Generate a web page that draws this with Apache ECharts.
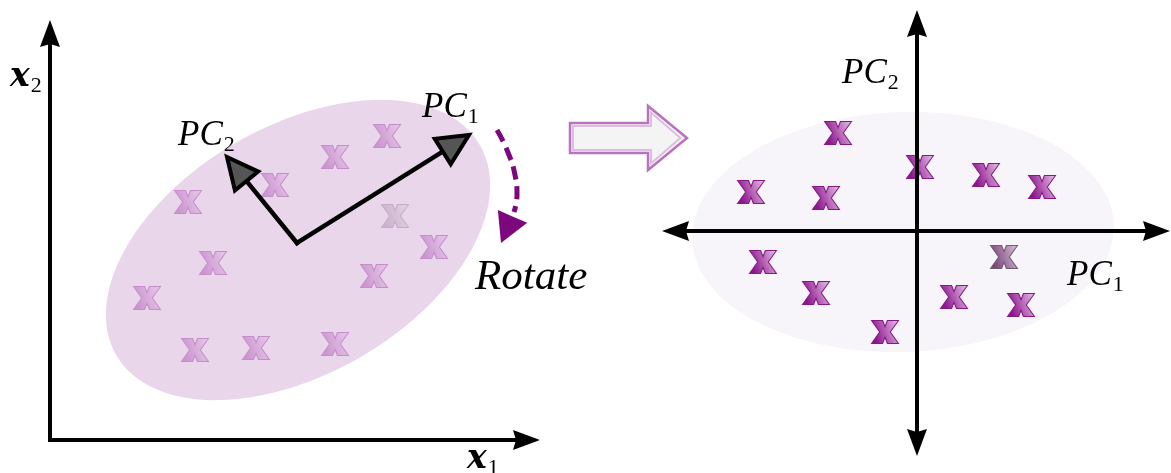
<!DOCTYPE html>
<html>
<head>
<meta charset="utf-8">
<script src="https://cdn.jsdelivr.net/npm/echarts@6/dist/echarts.min.js"></script>
<style>
  html, body { margin: 0; padding: 0; background: #fff; }
  #chart { width: 1171px; height: 473px; }
</style>
</head>
<body>
<div id="chart"></div>
<script>
// every value is in picture units: x grows to the right, y grows downward

// cx, cy, semi-major, semi-minor, tilt in degrees (counter-clockwise)
const clouds = [
  [298, 250, 210, 124, 30],
  [903, 232, 211, 120, 2]
];

// the samples, before and after the rotation
const beforePoints = [
  [188, 202], [275, 185], [335, 157], [387, 136], [434, 247], [213, 263],
  [374, 276], [147, 298], [195, 350], [256, 348], [335, 344]
];
const beforeFaded = [[395, 216]];
const afterPoints = [
  [838, 133], [920, 167], [986, 175], [1042, 187], [751, 192], [826, 198],
  [763, 262], [816, 293], [954, 297], [1021, 305], [885, 332]
];
const afterFaded = [[1004, 257]];

// arrows: from x, from y, to x, to y
const axisArrows = [
  [50, 440, 540, 440],
  [50, 440, 50, 20],
  [917, 231, 662, 231],
  [917, 231, 1170, 231],
  [917, 231, 917, 10],
  [917, 231, 917, 456]
];
const pcArrows = [
  [297, 243, 469, 135],
  [297, 243, 227, 157]
];
const rotatePath = [[497, 130], [507, 150], [515, 175], [517, 195], [514, 212]];
const rotateHead = [[514, 213, 501, 243]];

// block arrow: tail x, head start x, tip x, centre y, body half height, head half height
const shiftArrow = [[570, 648, 687, 138, 15, 32]];

// x, y, main text, subscript, kind
const labels = [
  [10, 77, 'x', '2', 'vec'],
  [467, 459, 'x', '1', 'vec'],
  [178, 136, 'PC', '2', 'math'],
  [422, 108, 'PC', '1', 'math'],
  [842, 74, 'PC', '2', 'math'],
  [1067, 276, 'PC', '1', 'math'],
  [475, 278, 'Rotate', '', 'word']
];

const xGlyph = 'path://M0,0 H11.5 L14,6.5 L16.5,0 H28 L19.5,12 L28,24 H16.5 L14,17.5 L11.5,24 H0 L8.5,12 Z';

function grad(a, b) {
  return { type: 'linear', x: 0, y: 0.3, x2: 1, y2: 0, colorStops: [{ offset: 0, color: a }, { offset: 1, color: b }] };
}

function glyphSeries(data, fill, border) {
  return {
    type: 'scatter', data, z: 3, silent: true,
    symbol: xGlyph, symbolSize: [27, 23],
    itemStyle: { color: fill, borderColor: border, borderWidth: 1, opacity: 1 }
  };
}

function arrowSeries(data, opt) {
  return {
    type: 'custom', coordinateSystem: 'cartesian2d', data, z: opt.z || 5, silent: true,
    renderItem(params, api) {
      const a = api.coord([api.value(0), api.value(1)]);
      const b = api.coord([api.value(2), api.value(3)]);
      const dx = b[0] - a[0], dy = b[1] - a[1], len = Math.hypot(dx, dy);
      const ux = dx / len, uy = dy / len, nx = -uy, ny = ux;
      const bx = b[0] - ux * opt.head, by = b[1] - uy * opt.head;
      const nb = [bx + ux * opt.notch, by + uy * opt.notch];
      const children = [];
      if (opt.lineWidth) {
        children.push({
          type: 'line',
          shape: { x1: a[0], y1: a[1], x2: nb[0], y2: nb[1] },
          style: { stroke: opt.lineColor, lineWidth: opt.lineWidth, lineCap: 'square' }
        });
      }
      children.push({
        type: 'polygon',
        shape: { points: [b, [bx + nx * opt.half, by + ny * opt.half], nb, [bx - nx * opt.half, by - ny * opt.half]] },
        style: { fill: opt.fill, stroke: opt.stroke || null, lineWidth: opt.strokeWidth || 0, lineJoin: 'miter' }
      });
      return { type: 'group', children };
    }
  };
}

const cloudColors = ['#ead6eb', '#f8f5fa'];

const rich = {
  vec: { fontFamily: 'DejaVu Serif', fontStyle: 'italic', fontWeight: 'bold', fontSize: 33, lineHeight: 40, color: '#000' },
  math: { fontFamily: 'Liberation Serif', fontStyle: 'italic', fontSize: 35, lineHeight: 40, color: '#000' },
  word: { fontFamily: 'Liberation Serif', fontStyle: 'italic', fontSize: 43, lineHeight: 46, color: '#000' },
  sub: { fontFamily: 'Liberation Serif', fontSize: 22, padding: [18, 0, 0, 1], color: '#000' }
};

const chart = echarts.init(document.getElementById('chart'), null, { renderer: 'canvas' });
chart.setOption({
  animation: false,
  grid: { left: 0, right: 0, top: 0, bottom: 0 },
  xAxis: { type: 'value', min: 0, max: 1171, show: false },
  yAxis: { type: 'value', min: 0, max: 473, inverse: true, show: false },
  series: [
    {
      type: 'custom', coordinateSystem: 'cartesian2d', z: 1, silent: true,
      data: clouds.map((c, i) => ({ value: c, itemStyle: { color: cloudColors[i] } })),
      renderItem(params, api) {
        const c = api.coord([api.value(0), api.value(1)]);
        const rx = api.size([api.value(2), 0])[0];
        const ry = api.size([0, api.value(3)])[1];
        const t = api.value(4) * Math.PI / 180;
        const pts = [];
        for (let k = 0; k < 120; k++) {
          const s = k / 120 * Math.PI * 2;
          const ex = rx * Math.cos(s), ey = ry * Math.sin(s);
          pts.push([c[0] + ex * Math.cos(t) - ey * Math.sin(t), c[1] - ex * Math.sin(t) - ey * Math.cos(t)]);
        }
        return { type: 'polygon', shape: { points: pts }, style: { fill: api.visual('color') } };
      }
    },
    {
      type: 'custom', coordinateSystem: 'cartesian2d', z: 2, silent: true, data: shiftArrow,
      renderItem(params, api) {
        const x0 = api.value(0), xh = api.value(1), xt = api.value(2), yc = api.value(3);
        const bh = api.value(4), hh = api.value(5);
        const shape = (i) => [
          [x0 + i, yc - bh + i], [xh + i, yc - bh + i], [xh + i, yc - hh + 2.2 * i], [xt - 2.2 * i, yc],
          [xh + i, yc + hh - 2.2 * i], [xh + i, yc + bh - i], [x0 + i, yc + bh - i]
        ].map(p => api.coord(p));
        return {
          type: 'group',
          children: [
            { type: 'polygon', shape: { points: shape(0) }, style: { fill: '#f4f4f4', stroke: '#b872be', lineWidth: 2.5, lineJoin: 'miter' } },
            { type: 'polygon', shape: { points: shape(3) }, style: { fill: 'none', stroke: '#dcbcdf', lineWidth: 2, lineJoin: 'miter' } }
          ]
        };
      }
    },
    glyphSeries(beforePoints, grad('#cb95d0', '#e8cbea'), '#c48fc9'),
    glyphSeries(beforeFaded, grad('#cbb2ce', '#e4d4e5'), '#c5abc8'),
    glyphSeries(afterPoints, grad('#8c148d', '#e8c6e8'), '#861886'),
    glyphSeries(afterFaded, grad('#7a467a', '#dcc0dc'), '#6c5f6c'),
    arrowSeries(axisArrows, { head: 27, half: 10, notch: 3, lineWidth: 4, lineColor: '#000', fill: '#000' }),
    arrowSeries(pcArrows, { head: 31, half: 15, notch: 0, lineWidth: 4.5, lineColor: '#000', fill: '#555', stroke: '#000', strokeWidth: 4 }),
    {
      type: 'line', data: rotatePath, z: 5, silent: true, smooth: 0.5, showSymbol: false,
      lineStyle: { color: '#7d077d', width: 5, type: [13, 7] }
    },
    arrowSeries(rotateHead, { head: 29, half: 16, notch: 0, lineWidth: 0, fill: '#7d077d' }),
    {
      type: 'custom', coordinateSystem: 'cartesian2d', z: 6, silent: true,
      data: labels.map(l => [l[0], l[1]]),
      renderItem(params, api) {
        const p = api.coord([api.value(0), api.value(1)]);
        const l = labels[params.dataIndex];
        const text = '{' + l[4] + '|' + l[2] + '}' + (l[3] ? '{sub|' + l[3] + '}' : '');
        return { type: 'text', x: p[0], y: p[1], style: { text, rich, align: 'left', verticalAlign: 'middle' } };
      }
    }
  ]
});
</script>
</body>
</html>
